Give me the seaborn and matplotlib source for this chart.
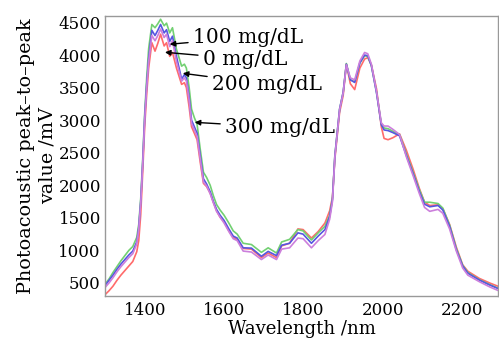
import numpy as np
import pandas as pd
import matplotlib
matplotlib.use("Agg")
import matplotlib.pyplot as plt
import seaborn as sns

wavelength = [1300, 1310, 1320, 1330, 1340, 1350, 1360, 1370, 1380, 1385, 1390, 1395,
              1400, 1405, 1410, 1418, 1426, 1433, 1440, 1449, 1455, 1463, 1470, 1480,
              1493, 1500, 1505, 1512, 1518, 1525, 1532, 1540, 1548, 1556, 1565, 1573,
              1581, 1590, 1600, 1612, 1623, 1633, 1648, 1669, 1694, 1711, 1732, 1745,
              1765, 1786, 1799, 1820, 1837, 1854, 1866, 1873, 1879, 1891, 1900, 1908,
              1918, 1929, 1942, 1954, 1962, 1971, 1984, 1996, 2003, 2013, 2025, 2042,
              2059, 2076, 2092, 2105, 2118, 2139, 2151, 2168, 2185, 2201, 2214, 2243,
              2269, 2290]

conc_0 = [320, 380, 450, 540, 620, 690, 760, 830, 980, 1150, 1550, 2200,
          2900, 3400, 3800, 4190, 4060, 4180, 4320, 4140, 4190, 3980, 4040, 3800,
          3550, 3575, 3500, 3200, 2900, 2800, 2700, 2350, 2030, 1980, 1880, 1740,
          1610, 1510, 1440, 1300, 1200, 1170, 1030, 1020, 890, 960, 890, 1070,
          1110, 1330, 1320, 1190, 1290, 1420, 1610, 1820, 2400, 3120, 3380, 3860,
          3560, 3470, 3800, 3940, 3960, 3850, 3480, 2900, 2720, 2700, 2730, 2790,
          2540, 2250, 1950, 1740, 1690, 1700, 1640, 1400, 1050, 780, 680, 570,
          500, 450]

conc_100 = [480, 560, 660, 750, 840, 920, 1000, 1060, 1200, 1400, 1800, 2400,
            3100, 3650, 4100, 4470, 4420, 4480, 4550, 4450, 4490, 4340, 4420, 4090,
            3830, 3860, 3800, 3500, 3170, 3040, 2935, 2550, 2200, 2120, 2000, 1840,
            1705, 1620, 1540, 1420, 1300, 1250, 1110, 1090, 970, 1040, 960, 1130,
            1170, 1320, 1300, 1160, 1270, 1370, 1540, 1800, 2450, 3170, 3430, 3870,
            3620, 3590, 3880, 3990, 3980, 3840, 3430, 2950, 2880, 2870, 2830, 2780,
            2480, 2200, 1930, 1740, 1740, 1720, 1650, 1390, 1030, 770, 660, 550,
            475, 420]

conc_200 = [460, 540, 620, 710, 790, 860, 930, 990, 1130, 1350, 1750, 2350,
            3050, 3550, 3950, 4380, 4300, 4380, 4470, 4340, 4390, 4210, 4290, 3980,
            3630, 3700, 3650, 3350, 3000, 2900, 2800, 2450, 2100, 2020, 1900, 1750,
            1630, 1540, 1460, 1330, 1220, 1190, 1040, 1035, 910, 985, 920, 1080,
            1110, 1270, 1250, 1110, 1220, 1320, 1520, 1780, 2450, 3170, 3430, 3860,
            3620, 3580, 3880, 4000, 3990, 3840, 3420, 2930, 2850, 2840, 2810, 2760,
            2460, 2180, 1900, 1710, 1670, 1690, 1620, 1370, 1010, 760, 650, 545,
            470, 415]

conc_300 = [430, 500, 580, 670, 750, 820, 890, 950, 1100, 1320, 1720, 2320,
            3000, 3500, 3900, 4300, 4220, 4300, 4400, 4270, 4320, 4130, 4220, 3900,
            3600, 3650, 3600, 3300, 2950, 2850, 2750, 2400, 2050, 1990, 1870, 1730,
            1600, 1510, 1420, 1290, 1180, 1150, 990, 975, 860, 930, 860, 1020,
            1040, 1190, 1180, 1040, 1150, 1245, 1480, 1750, 2430, 3160, 3420, 3850,
            3650, 3620, 3910, 4040, 4020, 3860, 3440, 2960, 2910, 2910, 2860, 2780,
            2440, 2150, 1870, 1660, 1600, 1630, 1570, 1330, 990, 730, 620, 520,
            440, 385]

labels = ["0 mg/dL", "100 mg/dL", "200 mg/dL", "300 mg/dL"]
series = [conc_0, conc_100, conc_200, conc_300]
colors = ["#ff6b6b", "#72d072", "#5656e0", "#cc7fdc"]

x_ticks = [1400, 1600, 1800, 2000, 2200]
y_ticks = [500, 1000, 1500, 2000, 2500, 3000, 3500, 4000, 4500]

frames = []
for lab, vals in zip(labels, series):
    frames.append(pd.DataFrame({"wavelength": wavelength, "value": vals, "conc": lab}))
df = pd.concat(frames, ignore_index=True)

sns.set_style("white")
plt.rcParams["font.family"] = ["DejaVu Serif"]
plt.rcParams["mathtext.fontset"] = "dejavuserif"
plt.rcParams["text.color"] = "black"
plt.rcParams["axes.labelcolor"] = "black"
plt.rcParams["xtick.color"] = "black"
plt.rcParams["ytick.color"] = "black"

fig = plt.figure(figsize=(4.99, 3.48), dpi=100)
ax = fig.add_axes([105 / 499, 1 - 296 / 348, 393 / 499, 280 / 348])

sns.lineplot(data=df, x="wavelength", y="value", hue="conc", hue_order=labels,
             palette=dict(zip(labels, colors)), linewidth=1.2, legend=False, ax=ax,
             sort=False, estimator=None)

ax.set_xlim(1300, 2290)
ax.set_ylim(300, 4600)
ax.set_xticks(x_ticks)
ax.set_yticks(y_ticks)
ax.tick_params(axis="x", direction="in", length=3, width=0.8, color="#888888",
               labelsize=12, pad=4, labelcolor="black")
ax.tick_params(axis="y", direction="out", length=2, width=0.8, color="#888888",
               labelsize=12, pad=1, labelcolor="black")
for s in ax.spines.values():
    s.set_color("#999999")
    s.set_linewidth(1.0)

ax.set_xlabel("Wavelength /nm", fontsize=13, labelpad=1)
ax.set_ylabel("Photoacoustic peak\u2013to\u2013peak\nvalue /mV", fontsize=13.8,
              labelpad=1, linespacing=1.25)

ann = [
    ("100 mg/dL", (1463, 4166), (1521, 4274)),
    ("0 mg/dL", (1451, 4043), (1546, 3935)),
    ("200 mg/dL", (1496, 3720), (1569, 3551)),
    ("300 mg/dL", (1526, 2967), (1602, 2890)),
]
for txt, tip, pos in ann:
    ax.annotate(txt, xy=tip, xytext=pos, fontsize=14.5, ha="left", va="center",
                color="black",
                arrowprops=dict(arrowstyle="-|>", color="black", lw=1.0,
                                shrinkA=1, shrinkB=0, mutation_scale=8))

fig.savefig("out.png", dpi=100)
